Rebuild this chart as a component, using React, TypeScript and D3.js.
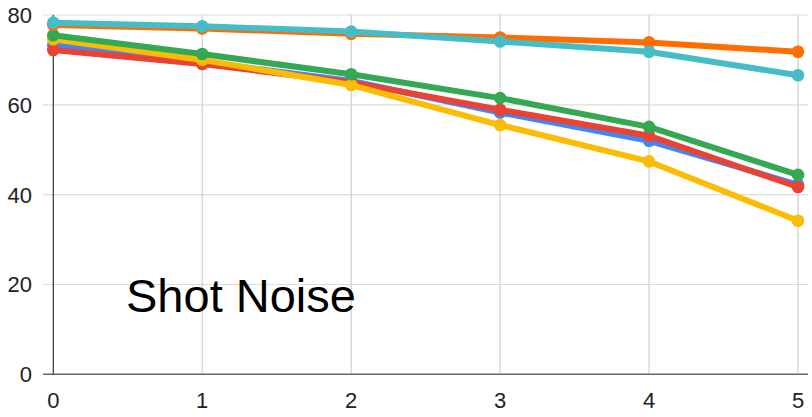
import * as d3 from "d3"
import { useEffect } from "react"

// x positions and y ticks
const steps = [0, 1, 2, 3, 4, 5]
const yTicks = [0, 20, 40, 60, 80]

// series values
const blueValues = [73.3, 69.6, 65.3, 58.3, 52.0, 42.2]
const redValues = [72.2, 69.1, 65.0, 58.9, 53.1, 41.7]
const yellowValues = [74.6, 70.0, 64.4, 55.5, 47.4, 34.2]
const greenValues = [75.5, 71.3, 66.8, 61.5, 55.1, 44.4]
const orangeValues = [77.8, 77.0, 75.8, 75.0, 73.9, 71.8]
const tealValues = [78.3, 77.5, 76.3, 74.1, 71.8, 66.6]

const seriesColors = ["#4285F4", "#EA4335", "#FBBC04", "#34A853", "#FF6D01", "#46BDC6"]
const seriesValues = [blueValues, redValues, yellowValues, greenValues, orangeValues, tealValues]

const title = "Shot Noise"

const App = () => {
  useEffect(() => {
    document.body.style.margin = "0"
  }, [])

  const width = 812
  const height = 417
  const font = "'Liberation Sans', Arial, sans-serif"

  const x = d3.scaleLinear().domain([0, 5]).range([53.3, 798])
  const y = d3.scaleLinear().domain([0, 80]).range([374.3, 15])
  const gridLeft = 43
  const gridRight = 808

  const line = d3
    .line<number>()
    .x((_d, i) => x(steps[i]))
    .y(d => y(d))

  return (
    <svg width={width} height={height} style={{ display: "block", background: "#fff" }}>
      {/* horizontal grid */}
      {yTicks.filter(t => t > 0).map(t => (
        <line key={`h${t}`} x1={gridLeft} x2={gridRight} y1={y(t)} y2={y(t)} stroke="#dcdcdc" strokeWidth={1.2} />
      ))}
      {/* vertical grid */}
      {steps.filter(s => s > 0).map(s => (
        <line key={`v${s}`} x1={x(s)} x2={x(s)} y1={y(80)} y2={y(0)} stroke="#cfcfcf" strokeWidth={1.2} />
      ))}
      {/* axes */}
      <line x1={x(0)} x2={x(0)} y1={y(80)} y2={y(0)} stroke="#333" strokeWidth={1.2} />
      <line x1={gridLeft} x2={gridRight} y1={y(0)} y2={y(0)} stroke="#666" strokeWidth={1.5} />

      {/* y tick labels */}
      {yTicks.map(t => (
        <text key={`yl${t}`} x={32} y={y(t) + 8} textAnchor="end" fontFamily={font} fontSize={22} fill="#222">
          {t}
        </text>
      ))}
      {/* x tick labels */}
      {steps.map(s => (
        <text key={`xl${s}`} x={x(s)} y={408} textAnchor="middle" fontFamily={font} fontSize={22} fill="#222">
          {s}
        </text>
      ))}

      {/* series */}
      {seriesValues.map((vals, si) => (
        <g key={`s${si}`}>
          <path d={line(vals) || ""} fill="none" stroke={seriesColors[si]} strokeWidth={6} strokeLinejoin="round" />
          {vals.map((v, i) => (
            <circle key={i} cx={x(steps[i])} cy={y(v)} r={6.3} fill={seriesColors[si]} />
          ))}
        </g>
      ))}

      <text x={126} y={311.5} fontFamily={font} fontSize={47} fill="#000">
        {title}
      </text>
    </svg>
  )
}

export default App
